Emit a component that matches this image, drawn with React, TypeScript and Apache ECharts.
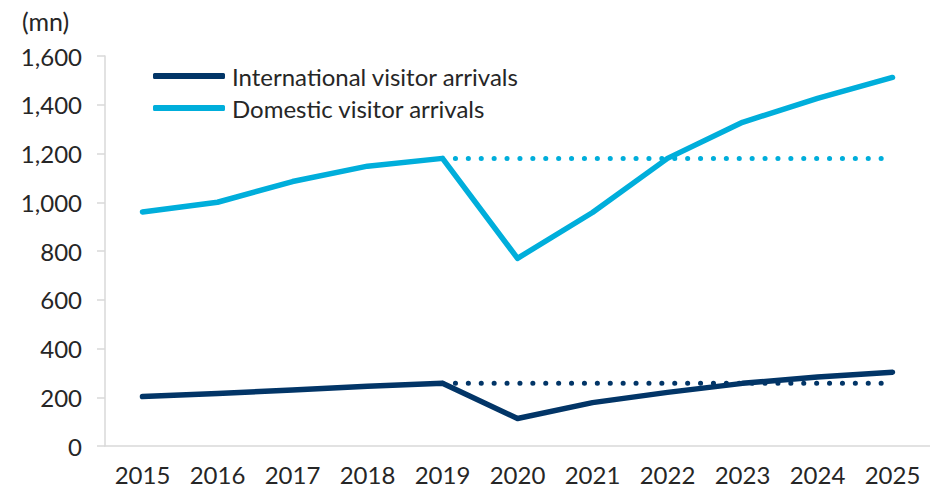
import React, { useEffect, useRef } from "react";
import * as echarts from "echarts";

const years = ["2015", "2016", "2017", "2018", "2019", "2020", "2021", "2022", "2023", "2024", "2025"];
const domestic = [960, 1000, 1085, 1148, 1180, 770, 958, 1180, 1328, 1426, 1512];
const international = [203, 215, 230, 245, 257, 113, 178, 220, 257, 283, 303];
const domesticBaseline = [null, null, null, null, 1180, 1180, 1180, 1180, 1180, 1180, 1180];
const internationalBaseline = [null, null, null, null, 257, 257, 257, 257, 257, 257, 257];

const NAVY = "#023567";
const CYAN = "#00AEDB";
const FONT = "Lato";
const TEXT = "#262626";

export default function App() {
  const ref = useRef<HTMLDivElement>(null);
  useEffect(() => {
    if (!ref.current) return;
    const chart = echarts.init(ref.current, null, { renderer: "svg" });
    chart.setOption({
      animation: false,
      textStyle: { fontFamily: FONT, color: TEXT },
      graphic: [
        {
          type: "text",
          left: 22,
          top: 8,
          style: { text: "(mn)", fontFamily: FONT, fontSize: 25, fill: TEXT },
        },
      ],
      legend: {
        orient: "vertical",
        left: 148,
        top: 59,
        itemWidth: 72,
        itemHeight: 6,
        itemGap: 8,
        icon: "roundRect",
        data: ["International visitor arrivals", "Domestic visitor arrivals"],
        textStyle: { fontFamily: FONT, fontSize: 24, color: TEXT, padding: [0, 0, 0, 2] },
      },
      grid: { left: 105, top: 56, width: 829, bottom: 42, containLabel: false },
      xAxis: {
        type: "category",
        data: years,
        boundaryGap: true,
        axisLine: { lineStyle: { color: "#d9d9d9", width: 1.5 } },
        axisTick: { alignWithLabel: true, length: 6, lineStyle: { color: "#d9d9d9", width: 1.5 } },
        axisLabel: { fontFamily: FONT, fontSize: 24, lineHeight: 24, color: TEXT, margin: 16 },
      },
      yAxis: {
        type: "value",
        min: 0,
        max: 1600,
        interval: 200,
        splitLine: { show: false },
        axisLine: { show: true, lineStyle: { color: "#d9d9d9", width: 1.5 } },
        axisTick: { show: true, length: 8, lineStyle: { color: "#d9d9d9", width: 1.5 } },
        axisLabel: {
          fontFamily: FONT,
          fontSize: 24,
          color: TEXT,
          margin: 23,
          formatter: (v: number) => v.toLocaleString("en-US"),
        },
      },
      series: [
        {
          name: "International visitor arrivals",
          type: "line",
          data: international,
          symbol: "none",
          color: NAVY,
          lineStyle: { color: NAVY, width: 5.5, cap: "round", join: "round" },
          z: 3,
        },
        {
          name: "Domestic visitor arrivals",
          type: "line",
          data: domestic,
          symbol: "none",
          color: CYAN,
          lineStyle: { color: CYAN, width: 5.5, cap: "round", join: "round" },
          z: 3,
        },
        {
          name: "intl-baseline",
          type: "line",
          data: internationalBaseline,
          symbol: "none",
          color: NAVY,
          lineStyle: { color: NAVY, width: 5, type: [0.1, 12.8], cap: "round" },
          z: 2,
        },
        {
          name: "dom-baseline",
          type: "line",
          data: domesticBaseline,
          symbol: "none",
          color: CYAN,
          lineStyle: { color: CYAN, width: 5, type: [0.1, 12.8], cap: "round" },
          z: 2,
        },
      ],
    });
    return () => chart.dispose();
  }, []);
  return <div ref={ref} style={{ position: "absolute", left: 0, top: 0, width: 930, height: 488 }} />;
}
